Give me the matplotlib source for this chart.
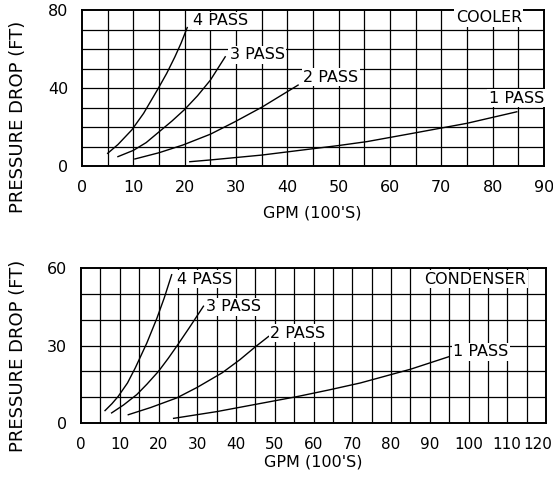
import numpy as np
import matplotlib
matplotlib.use("Agg")
import matplotlib.pyplot as plt
from matplotlib.transforms import ScaledTranslation

plt.rcParams['font.family'] = ['DejaVu Sans']

# cooler curves (GPM in 100's, pressure drop in ft)
cool_4_x = [5, 7, 9.7, 12, 14.9, 16.5, 18.1, 19.3, 20.5]
cool_4_y = [6.5, 11, 18.5, 27, 40, 47.5, 56, 63, 71]
cool_3_x = [7, 10, 12.5, 15, 17.5, 20, 22.5, 25, 27.9]
cool_3_y = [4.8, 8, 12, 17.5, 23, 29, 36, 44, 56]
cool_2_x = [10.3, 15, 19.7, 25, 29.8, 35, 42.1]
cool_2_y = [3.6, 6.8, 10.8, 16.3, 22.7, 30.1, 41.5]
cool_1_x = [21, 25, 35, 50, 55.5, 64.5, 75, 84.7]
cool_1_y = [2.2, 3.1, 5.6, 10.5, 12.5, 16.8, 21.9, 27.8]

# condenser curves
cond_4_x = [6.2, 8, 9.6, 12, 14, 17, 19.6, 21.5, 23.4]
cond_4_y = [4.8, 7.5, 10.3, 15.5, 21.3, 31, 40.6, 48.5, 57.4]
cond_3_x = [7.9, 11, 14.4, 17, 20, 22.5, 24.7, 28, 31.6]
cond_3_y = [3.9, 7, 11, 15, 20, 25, 29.7, 37, 45.2]
cond_2_x = [12.2, 18, 24.7, 30, 36.4, 41, 45, 48.4]
cond_2_y = [3.2, 6, 9.7, 13.8, 19.4, 24.5, 29.5, 33.5]
cond_1_x = [23.9, 35, 45, 55.7, 64, 72.1, 85, 95]
cond_1_y = [1.8, 4.4, 7.2, 10.2, 12.8, 15.5, 20.8, 25.7]

pass_labels = ["4 PASS", "3 PASS", "2 PASS", "1 PASS"]
cool_lab_x = [21.7, 28.8, 43.1, 79.2]
cool_lab_y = [74.5, 57, 45.5, 34.7]
cond_lab_x = [24.7, 32.3, 48.8, 96.1]
cond_lab_y = [55.7, 45, 34.7, 27.6]

fig = plt.figure(figsize=(5.53, 4.87), dpi=100)
W, H = 553, 487
ax1 = fig.add_axes([82 / W, 1 - 166 / H, 462 / W, 156 / H])
ax2 = fig.add_axes([81 / W, 1 - 423 / H, 465 / W, 155 / H])

def setup(ax, xmax, ymax, ystep, fs):
    ax.set_xlim(0, xmax)
    ax.set_ylim(0, ymax)
    for x in np.arange(5, xmax, 5):
        ax.axvline(x, color='black', lw=0.9, zorder=1)
    for y in np.arange(10, ymax, 10):
        ax.axhline(y, color='black', lw=0.9, zorder=1)
    ax.set_xticks(np.arange(0, xmax + 1, 10))
    ax.set_yticks([0, ystep, 2 * ystep])
    ax.tick_params(length=0, labelsize=11.5, pad=10)
    ax.tick_params(axis='x', labelsize=fs)
    for s in ax.spines.values():
        s.set_linewidth(1.4)

setup(ax1, 90, 80, 40, 11.5)
setup(ax2, 120, 60, 30, 11)

# keep the "120" inside the figure
last = ax2.get_xticklabels()[-1]
last.set_horizontalalignment('right')
last.set_transform(last.get_transform() + ScaledTranslation(6 / 100, 0, fig.dpi_scale_trans))

box = dict(facecolor='white', edgecolor='none', pad=1.0)
cool = [(cool_4_x, cool_4_y), (cool_3_x, cool_3_y), (cool_2_x, cool_2_y), (cool_1_x, cool_1_y)]
for (xs, ys), lab, lx, ly in zip(cool, pass_labels, cool_lab_x, cool_lab_y):
    ax1.plot(xs, ys, color='black', lw=1.0, zorder=3)
    ax1.text(lx, ly, lab, fontsize=11.5, va='center', ha='left', bbox=box, zorder=4)
ax1.text(72.8, 76, "COOLER", fontsize=11.5, va='center', ha='left', bbox=box, zorder=4)

cond = [(cond_4_x, cond_4_y), (cond_3_x, cond_3_y), (cond_2_x, cond_2_y), (cond_1_x, cond_1_y)]
for (xs, ys), lab, lx, ly in zip(cond, pass_labels, cond_lab_x, cond_lab_y):
    ax2.plot(xs, ys, color='black', lw=1.0, zorder=3)
    ax2.text(lx, ly, lab, fontsize=11.5, va='center', ha='left', bbox=box, zorder=4)
ax2.text(88.6, 55.6, "CONDENSER", fontsize=11.5, va='center', ha='left', bbox=box, zorder=4)

fig.text(18 / W, 1 - 117 / H, "PRESSURE DROP (FT)", rotation=90, fontsize=13,
         ha='center', va='center')
fig.text(18 / W, 1 - 356 / H, "PRESSURE DROP (FT)", rotation=90, fontsize=13,
         ha='center', va='center')
fig.text(312 / W, 1 - 213 / H, "GPM (100'S)", fontsize=11.5, ha='center', va='center')
fig.text(313 / W, 1 - 462 / H, "GPM (100'S)", fontsize=11.5, ha='center', va='center')

fig.savefig("out.png", dpi=100)
